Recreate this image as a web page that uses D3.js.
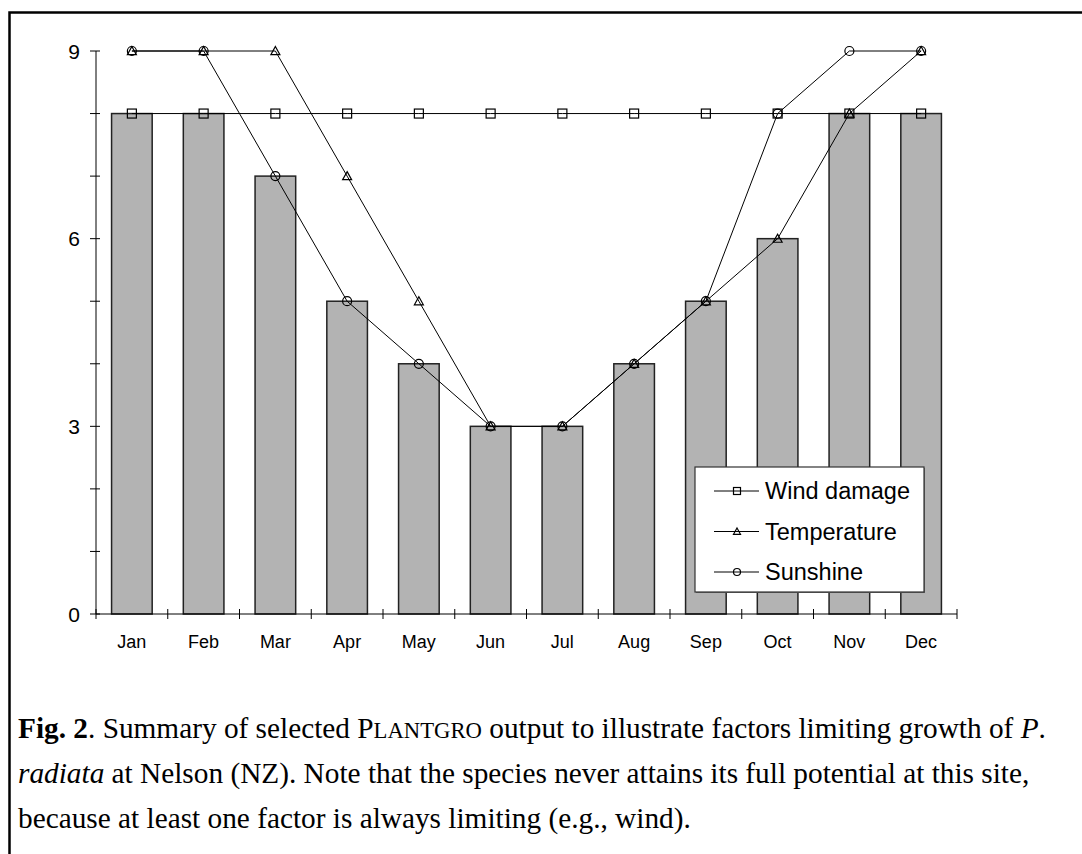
<!DOCTYPE html>
<html>
<head>
<meta charset="utf-8">
<script src="https://cdn.jsdelivr.net/npm/d3@7"></script>
<style>
  body { margin: 0; background: #fff; }
  svg { display: block; }
</style>
</head>
<body>
<div id="my_dataviz"></div>
<script>
// data
var months = ["Jan", "Feb", "Mar", "Apr", "May", "Jun", "Jul", "Aug", "Sep", "Oct", "Nov", "Dec"];
var growth = [8, 8, 7, 5, 4, 3, 3, 4, 5, 6, 8, 8];
var windDamage = [8, 8, 8, 8, 8, 8, 8, 8, 8, 8, 8, 8];
var temperature = [9, 9, 9, 7, 5, 3, 3, 4, 5, 6, 8, 9];
var sunshine = [9, 9, 7, 5, 4, 3, 3, 4, 5, 8, 9, 9];
var yTicks = [0, 1, 2, 3, 4, 5, 6, 7, 8, 9];
var yLabels = [0, 3, 6, 9];

var W = 1082, H = 854;
var svg = d3.select("#my_dataviz")
  .append("svg")
    .attr("width", W)
    .attr("height", H);

// frame round the figure
svg.append("rect")
  .attr("x", 9.5).attr("y", 12.5)
  .attr("width", 1090).attr("height", 870)
  .style("fill", "none")
  .style("stroke", "black")
  .style("stroke-width", 2.5);

var plotLeft = 96, plotRight = 957, plotTop = 51, plotBottom = 614;

var x = d3.scaleBand()
  .domain(months)
  .range([plotLeft, plotRight])
  .paddingInner(0.434)
  .paddingOuter(0.217);

var xTick = d3.scalePoint().domain(d3.range(13)).range([plotLeft, plotRight]);

var y = d3.scaleLinear()
  .domain([0, 9])
  .range([plotBottom, plotTop]);

// bars
svg.append("g")
  .selectAll("rect")
  .data(growth)
  .enter()
  .append("rect")
    .attr("x", function(d, i) { return x(months[i]); })
    .attr("y", function(d) { return y(d); })
    .attr("width", x.bandwidth())
    .attr("height", function(d) { return y(0) - y(d); })
    .style("fill", "#b3b3b3")
    .style("stroke", "#222")
    .style("stroke-width", 1.5);

// axes, drawn by hand to get the crossing ticks
var ax = svg.append("g").style("stroke", "black").style("stroke-width", 1);
ax.append("line")
  .attr("x1", plotLeft).attr("x2", plotLeft)
  .attr("y1", y(9)).attr("y2", y(0));
ax.selectAll(".yt")
  .data(yTicks)
  .enter().append("line")
    .attr("x1", plotLeft - 6).attr("x2", plotLeft + 4)
    .attr("y1", function(d) { return y(d); })
    .attr("y2", function(d) { return y(d); });
ax.append("line")
  .attr("x1", plotLeft).attr("x2", plotRight)
  .attr("y1", y(0)).attr("y2", y(0));
ax.selectAll(".xt")
  .data(d3.range(13))
  .enter().append("line")
    .attr("x1", function(d) { return xTick(d); })
    .attr("x2", function(d) { return xTick(d); })
    .attr("y1", y(0) - 5).attr("y2", y(0) + 5);

svg.append("g")
  .selectAll("text")
  .data(yLabels)
  .enter().append("text")
    .attr("x", plotLeft - 16)
    .attr("y", function(d) { return y(d); })
    .attr("dy", "0.36em")
    .attr("text-anchor", "end")
    .style("font-family", "Liberation Sans, Arial, sans-serif")
    .style("font-size", "21px")
    .text(function(d) { return d; });

svg.append("g")
  .selectAll("text")
  .data(months)
  .enter().append("text")
    .attr("x", function(d) { return x(d) + x.bandwidth() / 2; })
    .attr("y", y(0) + 34)
    .attr("text-anchor", "middle")
    .style("font-family", "Liberation Sans, Arial, sans-serif")
    .style("font-size", "18px")
    .text(function(d) { return d; });

// markers
function marker(g, kind, cx, cy, s) {
  if (kind == "square") {
    g.append("rect")
      .attr("x", cx - s).attr("y", cy - s)
      .attr("width", 2 * s).attr("height", 2 * s)
      .style("fill", "none")
      .style("stroke", "black").style("stroke-width", 1.2);
  } else if (kind == "triangle") {
    g.append("path")
      .attr("d", "M" + cx + "," + (cy - s) + "L" + (cx + s) + "," + (cy + s * 0.8) + "L" + (cx - s) + "," + (cy + s * 0.8) + "Z")
      .style("fill", "none")
      .style("stroke", "black").style("stroke-width", 1.2);
  } else {
    g.append("circle")
      .attr("cx", cx).attr("cy", cy).attr("r", s)
      .style("fill", "none")
      .style("stroke", "black").style("stroke-width", 1.2);
  }
}

var series = [
  {name: "Wind damage", values: windDamage, kind: "square"},
  {name: "Temperature", values: temperature, kind: "triangle"},
  {name: "Sunshine", values: sunshine, kind: "circle"}
];

var line = d3.line()
  .x(function(d, i) { return x(months[i]) + x.bandwidth() / 2; })
  .y(function(d) { return y(d); });

series.forEach(function(s) {
  var g = svg.append("g");
  g.append("path")
    .datum(s.values)
    .attr("d", line)
    .style("fill", "none")
    .style("stroke", "black")
    .style("stroke-width", 1);
  s.values.forEach(function(v, i) {
    marker(g, s.kind, x(months[i]) + x.bandwidth() / 2, y(v), 4.5);
  });
});

// legend box
var lg = svg.append("g");
lg.append("rect")
  .attr("x", 696).attr("y", 468)
  .attr("width", 229).attr("height", 125)
  .style("fill", "#666");
lg.append("rect")
  .attr("x", 695).attr("y", 467)
  .attr("width", 229).attr("height", 125)
  .style("fill", "white")
  .style("stroke", "#333")
  .style("stroke-width", 1.2);
series.forEach(function(s, i) {
  var ly = 491 + i * 40.5;
  lg.append("line")
    .attr("x1", 714).attr("x2", 759)
    .attr("y1", ly).attr("y2", ly)
    .style("stroke", "black").style("stroke-width", 1);
  marker(lg, s.kind, 737, ly, 3.5);
  lg.append("text")
    .attr("x", 765).attr("y", ly)
    .attr("dy", "0.36em")
    .style("font-family", "Liberation Sans, Arial, sans-serif")
    .style("font-size", "23.5px")
    .text(s.name);
});

// caption
var cap = svg.append("text")
  .style("font-family", "Liberation Serif, Times New Roman, serif")
  .style("font-size", "29.3px")
  .attr("x", 18);
var l1 = cap.append("tspan").attr("x", 18).attr("y", 738);
l1.append("tspan").style("font-weight", "bold").text("Fig. 2");
l1.append("tspan").text(". Summary of selected P");
l1.append("tspan").style("font-size", "22.7px").text("LANTGRO");
l1.append("tspan").text(" output to illustrate factors limiting growth of ");
l1.append("tspan").style("font-style", "italic").text("P");
l1.append("tspan").text(".");
var l2 = cap.append("tspan").attr("x", 18).attr("y", 783);
l2.append("tspan").style("font-style", "italic").text("radiata");
l2.append("tspan").text(" at Nelson (NZ). Note that the species never attains its full potential at this site,");
cap.append("tspan").attr("x", 18).attr("y", 828)
  .text("because at least one factor is always limiting (e.g., wind).");
</script>
</body>
</html>
